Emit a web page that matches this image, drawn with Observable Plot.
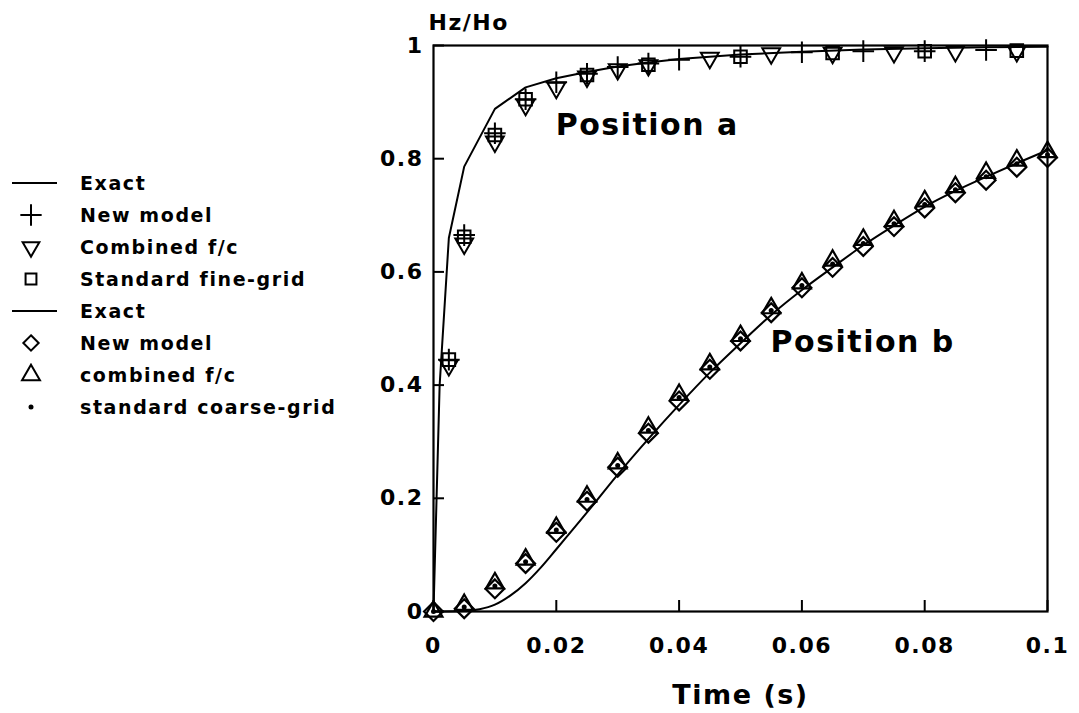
<!DOCTYPE html>
<html>
<head>
<meta charset="utf-8">
<script src="https://cdn.jsdelivr.net/npm/d3@7"></script>
<script src="https://cdn.jsdelivr.net/npm/@observablehq/plot@0.6"></script>
<style>
  html, body { margin: 0; padding: 0; background: #fff; }
  #wrap { position: relative; width: 1079px; height: 713px; font-family: "DejaVu Sans", sans-serif; font-weight: bold; }
  #wrap svg text { letter-spacing: 1.5px; }
  #legend { position: absolute; left: 0; top: 0; }
  .li { position: absolute; left: 0; height: 24px; display: flex; align-items: center; }
  .li svg { width: 60px; height: 24px; }
  .li span { position: absolute; left: 80px; font-size: 19px; letter-spacing: 1.6px; white-space: nowrap; color: #000; }
</style>
</head>
<body>
<div id="wrap"><div id="legend"></div></div>
<script>
// ---- Position a ----
const exactAT = [0, 0.001, 0.0025, 0.005, 0.01, 0.015, 0.02, 0.025, 0.03, 0.035, 0.04, 0.045, 0.05, 0.06, 0.07, 0.08, 0.09, 0.1];
const exactAY = [0, 0.40, 0.66, 0.786, 0.888, 0.926, 0.942, 0.953, 0.963, 0.970, 0.976, 0.980, 0.984, 0.989, 0.993, 0.995, 0.997, 0.998];

const newModelAT = [0.0025, 0.005, 0.01, 0.015, 0.02, 0.025, 0.03, 0.035, 0.04, 0.05, 0.06, 0.07, 0.08, 0.09];
const newModelAY = [0.445, 0.665, 0.845, 0.905, 0.935, 0.950, 0.962, 0.968, 0.975, 0.980, 0.988, 0.990, 0.990, 0.992];

const combinedAT = [0.0025, 0.005, 0.01, 0.015, 0.02, 0.025, 0.03, 0.035, 0.045, 0.055, 0.065, 0.075, 0.085, 0.095];
const combinedAY = [0.435, 0.650, 0.830, 0.895, 0.925, 0.945, 0.958, 0.965, 0.978, 0.986, 0.987, 0.988, 0.990, 0.990];

const fineAT = [0.0025, 0.005, 0.01, 0.015, 0.025, 0.035, 0.05, 0.065, 0.08, 0.095];
const fineAY = [0.445, 0.662, 0.842, 0.905, 0.948, 0.966, 0.980, 0.987, 0.990, 0.991];

// ---- Position b ----
const exactBT = [0, 0.005, 0.0075, 0.01, 0.0125, 0.015, 0.0175, 0.02, 0.025, 0.03, 0.035, 0.04, 0.045, 0.05, 0.055, 0.06, 0.065, 0.07, 0.075, 0.08, 0.085, 0.09, 0.095, 0.1];
const exactBY = [0, 0.001, 0.004, 0.012, 0.028, 0.050, 0.078, 0.110, 0.175, 0.242, 0.305, 0.365, 0.422, 0.474, 0.524, 0.568, 0.608, 0.647, 0.682, 0.715, 0.743, 0.768, 0.792, 0.815];

const markersBT = [0, 0.005, 0.01, 0.015, 0.02, 0.025, 0.03, 0.035, 0.04, 0.045, 0.05, 0.055, 0.06, 0.065, 0.07, 0.075, 0.08, 0.085, 0.09, 0.095, 0.1];
const newModelBY = [0, 0.005, 0.040, 0.085, 0.140, 0.195, 0.255, 0.315, 0.372, 0.428, 0.478, 0.528, 0.572, 0.608, 0.645, 0.680, 0.713, 0.740, 0.762, 0.785, 0.802];
const combinedBY = [0, 0.012, 0.050, 0.092, 0.148, 0.203, 0.262, 0.325, 0.383, 0.437, 0.487, 0.536, 0.580, 0.620, 0.657, 0.690, 0.725, 0.750, 0.775, 0.797, 0.812];
const coarseBY = [0, 0.008, 0.045, 0.088, 0.144, 0.198, 0.258, 0.320, 0.378, 0.432, 0.482, 0.532, 0.576, 0.614, 0.650, 0.685, 0.719, 0.745, 0.768, 0.791, 0.807];

// ---- ticks & annotations ----
const xTicks = [0, 0.02, 0.04, 0.06, 0.08, 0.1];
const yTicks = [0, 0.2, 0.4, 0.6, 0.8, 1];
const annText = ["Position a", "Position b"];
const annT = [0.0199, 0.0549];
const annY = [0.859, 0.475];

const legendLabels = ["Exact", "New model", "Combined f/c", "Standard fine-grid", "Exact", "New model", "combined f/c", "standard coarse-grid"];
const legendSymbols = ["line", "plus", "triangleDown", "square", "line", "diamond", "triangle", "dot"];

const zipXY = (xs, ys) => xs.map((x, i) => ({t: x, v: ys[i]}));

const triangleDown = {
  draw(ctx, size) {
    const s = Math.sqrt(size) * 0.6824, t = s / 2, u = s * Math.sqrt(3) / 2;
    ctx.moveTo(0, s); ctx.lineTo(u, -t); ctx.lineTo(-u, -t); ctx.closePath();
  }
};

const chart = Plot.plot({
  width: 1079,
  height: 713,
  marginLeft: 433,
  marginRight: 32,
  marginTop: 45,
  marginBottom: 102,
  style: {fontFamily: "DejaVu Sans", fontWeight: "bold", color: "#000", background: "#fff"},
  x: {domain: [0, 0.1]},
  y: {domain: [0, 1]},
  marks: [
    Plot.frame({stroke: "#000", strokeWidth: 2.2}),
    Plot.axisX({ticks: xTicks, tickSize: -11, tickPadding: 37, tickFormat: d => String(d), label: null, fontSize: 22, strokeWidth: 2}),
    Plot.axisX({ticks: [], label: "Time (s)", labelAnchor: "center", labelArrow: "none", labelOffset: 92, fontSize: 27}),
    Plot.axisY({ticks: yTicks, tickSize: -11, tickPadding: 21, tickFormat: d => String(d), label: null, fontSize: 22, strokeWidth: 2}),
    Plot.text(["Hz/Ho"], {frameAnchor: "top-left", textAnchor: "start", lineAnchor: "bottom", dx: -5, dy: -16, fontSize: 22, fontWeight: "bold"}),
    // Position a
    Plot.line(zipXY(exactAT, exactAY), {x: "t", y: "v", stroke: "#000", strokeWidth: 2}),
    Plot.dot(zipXY(fineAT, fineAY), {x: "t", y: "v", symbol: "square2", r: 8, stroke: "#000", fill: "none", strokeWidth: 2}),
    Plot.dot(zipXY(combinedAT, combinedAY), {x: "t", y: "v", symbol: triangleDown, r: 8.5, stroke: "#000", fill: "none", strokeWidth: 2}),
    Plot.dot(zipXY(newModelAT, newModelAY), {x: "t", y: "v", symbol: "plus", r: 7, stroke: "#000", fill: "none", strokeWidth: 2}),
    // Position b
    Plot.line(zipXY(exactBT, exactBY), {x: "t", y: "v", stroke: "#000", strokeWidth: 2, curve: "monotone-x"}),
    Plot.dot(zipXY(markersBT, newModelBY), {x: "t", y: "v", symbol: "diamond2", r: 8.5, stroke: "#000", fill: "none", strokeWidth: 2.2}),
    Plot.dot(zipXY(markersBT, combinedBY), {x: "t", y: "v", symbol: "triangle2", r: 8.5, stroke: "#000", fill: "none", strokeWidth: 2.2}),
    Plot.dot(zipXY(markersBT, coarseBY), {x: "t", y: "v", symbol: "circle", r: 2.5, fill: "#000", stroke: "none"}),
    // annotations
    Plot.text(annText.map((s, i) => ({s, t: annT[i], v: annY[i]})), {x: "t", y: "v", text: "s", textAnchor: "start", fontSize: 30, fontWeight: "bold"})
  ]
});
document.getElementById("wrap").prepend(chart);

// legend
const legend = d3.select("#legend");
const symMap = {
  plus: d3.symbolPlus, triangleDown: triangleDown, square: d3.symbolSquare2,
  diamond: d3.symbolDiamond2, triangle: d3.symbolTriangle2
};
const symSize = {plus: 150, triangleDown: 200, square: 150, diamond: 150, triangle: 230};
legendLabels.forEach((lab, i) => {
  const yc = 183 + 32 * i;
  const row = legend.append("div").attr("class", "li").style("top", (yc - 12) + "px");
  const svg = row.append("svg");
  const kind = legendSymbols[i];
  if (kind === "line") {
    svg.append("line").attr("x1", 12).attr("x2", 57).attr("y1", 12).attr("y2", 12).attr("stroke", "#000").attr("stroke-width", 2);
  } else if (kind === "dot") {
    svg.append("circle").attr("cx", 31).attr("cy", 12).attr("r", 2.5).attr("fill", "#000");
  } else {
    svg.append("path").attr("transform", "translate(31,12)")
      .attr("d", d3.symbol(symMap[kind], symSize[kind])())
      .attr("fill", "none").attr("stroke", "#000").attr("stroke-width", 2);
  }
  row.append("span").text(lab);
});
</script>
</body>
</html>
